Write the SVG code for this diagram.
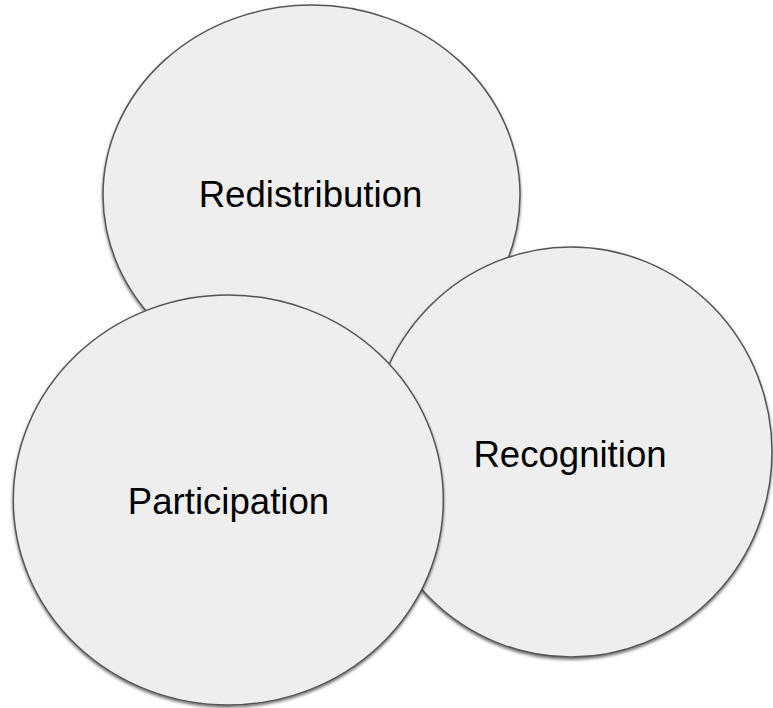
<svg xmlns="http://www.w3.org/2000/svg" width="773" height="708" viewBox="0 0 773 708">
  <defs>
    <filter id="shadow" x="-10%" y="-10%" width="120%" height="125%">
      <feDropShadow dx="0" dy="2" stdDeviation="1.8" flood-color="#000" flood-opacity="0.55"/>
    </filter>
    <style>
      .bubble { fill: #eeeeee; stroke: #555555; stroke-width: 1.5; filter: url(#shadow); }
      .label { font-family: "Liberation Sans", Arial, sans-serif; font-size: 36.6px; fill: #000; text-anchor: middle; }
    </style>
  </defs>
  <rect width="773" height="708" fill="#ffffff"/>
  <g id="redistribution">
    <ellipse class="bubble" cx="311.5" cy="195" rx="208.5" ry="190"/>
    <text class="label" x="310.5" y="207.3">Redistribution</text>
  </g>
  <g id="recognition">
    <ellipse class="bubble" cx="571" cy="452" rx="201" ry="205"/>
    <text class="label" x="570" y="466.7">Recognition</text>
  </g>
  <g id="participation">
    <ellipse class="bubble" cx="228.3" cy="500" rx="215" ry="205"/>
    <text class="label" x="228.5" y="514">Participation</text>
  </g>
  <g id="connectors"/>
</svg>
